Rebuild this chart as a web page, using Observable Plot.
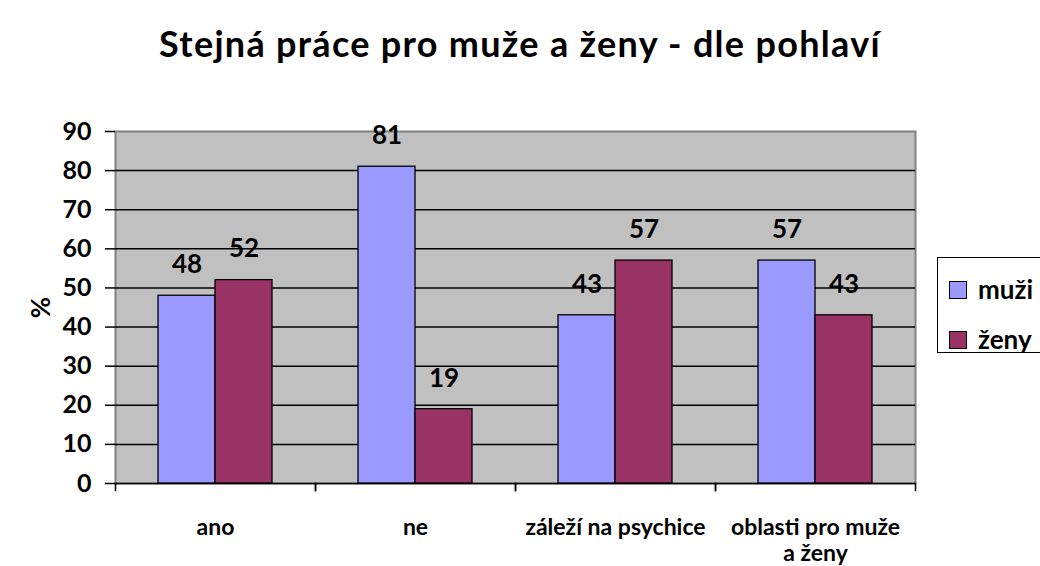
<!DOCTYPE html>
<html>
<head>
<meta charset="utf-8">
<script src="https://cdn.jsdelivr.net/npm/d3@7"></script>
<script src="https://cdn.jsdelivr.net/npm/@observablehq/plot@0.6"></script>
<style>
  html, body { margin: 0; padding: 0; background: #fff; }
  #wrap { position: relative; width: 1040px; height: 566px; overflow: hidden; font-family: Lato, "Open Sans", sans-serif; }
  #title { height: 90px; text-align: center; font-weight: bold; font-size: 36px; letter-spacing: 1.3px; line-height: 90px; color: #000; position: relative; top: -2px; }
  #legend { position: absolute; left: 937px; top: 257px; width: 160px; height: 94px; border: 1.5px solid #000; background: #fff; }
  .item { position: absolute; left: 11px; height: 24px; font-weight: bold; font-size: 26px; line-height: 24px; }
  .sw { position: absolute; left: 0; top: 3px; width: 18px; height: 18px; border: 1.3px solid #000; box-sizing: border-box; }
  .lab { position: absolute; left: 29px; top: -1px; white-space: nowrap; }
</style>
</head>
<body>
<div id="wrap">
  <div id="title"></div>
  <div id="chart"></div>
  <div id="legend"></div>
</div>
<script>
const titleText = "Stejná práce pro muže a ženy - dle pohlaví";
const categories = ["ano", "ne", "záleží na psychice", "oblasti pro muže\na ženy"];
const series = ["muži", "ženy"];
const muzi = [48, 81, 43, 57];
const zeny = [52, 19, 57, 43];
const yTicks = [0, 10, 20, 30, 40, 50, 60, 70, 80, 90];
const colors = ["#9999FF", "#993366"];

document.getElementById("title").textContent = titleText;

const data = categories.flatMap((c, i) => [
  {cat: c, s: series[0], v: muzi[i]},
  {cat: c, s: series[1], v: zeny[i]}
]);

const H = 476, MT = 41, MB = 83;
const chart = Plot.plot({
  width: 1040,
  height: H,
  marginTop: MT,
  marginBottom: MB,
  marginLeft: 114,
  marginRight: 124,
  style: {fontFamily: "Lato, 'Open Sans', sans-serif", color: "#000", background: "transparent", overflow: "visible"},
  fx: {domain: categories, padding: 0, label: null},
  x: {domain: series, paddingInner: 0, paddingOuter: 0.75, axis: null},
  y: {domain: [0, 90], label: null},
  color: {domain: series, range: colors},
  marks: [
    Plot.frame({fill: "#c0c0c0", stroke: "#808080", strokeWidth: 2, facet: "super"}),
    Plot.ruleY(yTicks.filter((t) => t < d3.max(yTicks)), {stroke: "#000", strokeWidth: 1.5}),
    Plot.barY(data, {fx: "cat", x: "s", y: "v", fill: "s", stroke: "#000", strokeWidth: 1.3}),
    Plot.text(data, {fx: "cat", x: "s", y: "v", text: "v", dy: -31, fontSize: 26, fontWeight: "bold", lineAnchor: "middle", fill: "#000"}),
    Plot.frame({anchor: "left", stroke: "#000", strokeWidth: 1.5, insetTop: H - MT - MB, insetBottom: -7}),
    Plot.frame({anchor: "right", stroke: "#000", strokeWidth: 1.5, insetTop: H - MT - MB, insetBottom: -7}),
    Plot.axisY({ticks: yTicks, tickSize: 10, tickPadding: 14, fontSize: 25, fontWeight: "bold", stroke: "#000", strokeWidth: 1.5, label: "%", labelAnchor: "center", labelArrow: "none", labelOffset: 84, line: true}),
    Plot.axisFx({anchor: "bottom", tickSize: 0, tickPadding: 34, fontSize: 23, fontWeight: "bold", lineHeight: 1.1, label: null})
  ]
});
document.getElementById("chart").appendChild(chart);

d3.select(chart).selectAll("g[aria-label='y-axis label'] text").attr("font-size", 26).attr("font-weight", "bold");

const legend = d3.select("#legend");
series.forEach((s, i) => {
  const it = legend.append("div").attr("class", "item").style("top", (i === 0 ? 20 : 70) + "px");
  it.append("div").attr("class", "sw").style("background", colors[i]);
  it.append("div").attr("class", "lab").text(s);
});
</script>
</body>
</html>
